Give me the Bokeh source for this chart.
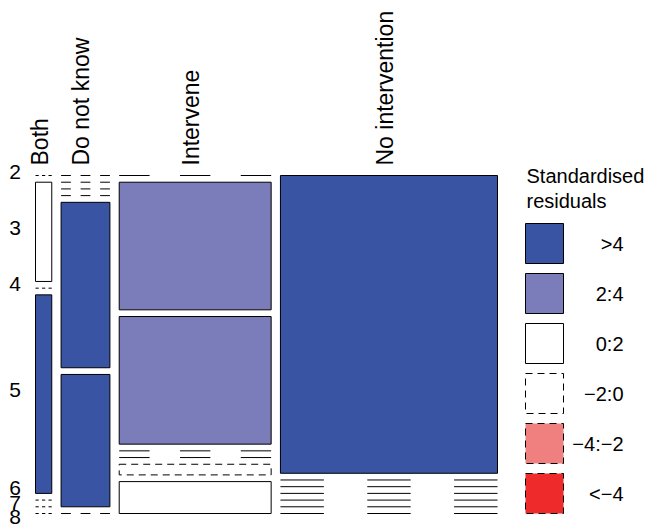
import numpy as np
from bokeh.plotting import figure
from bokeh.models import Range1d
from bokeh.embed import file_html
from bokeh.resources import INLINE
from bokeh.core.properties import value

# ---------------- data ----------------
columns = ["Both", "Do not know", "Intervene", "No intervention"]
rows = ["2", "3", "4", "5", "6", "7", "8"]
# counts per column, one entry per row level (2..8)
both = [0, 1, 0, 2, 0, 0, 0]
do_not_know = [0, 0, 0, 0, 5, 4, 0]
intervene = [0, 12, 12, 0, 0, 1, 3]
no_intervention = [40, 0, 0, 0, 0, 0, 0]

legend_title = ["Standardised", "residuals"]
legend_labels = [">4", "2:4", "0:2", "\u22122:0", "\u22124:\u22122", "<\u22124"]
shade_colors = ["#3A54A4", "#7B7CBA", "#FFFFFF", "#FFFFFF", "#F08080", "#EE2A2A"]
shade_dashed = [False, False, False, True, True, True]

# ---------------- layout / style ----------------
FONT = value("Liberation Sans")
W_FIG, H_FIG = 647, 529
X1, X2 = 35, 497          # mosaic left / right
YTOP, YBOT = 354, 16      # mosaic top / bottom (y up)
OFFX, OFFY = 0.0604, 0.119
DASH = "7 5"

counts = np.array([both, do_not_know, intervene, no_intervention], dtype=float)
ncol, nrow = counts.shape
N = counts.sum()
col_tot = counts.sum(axis=1)
row_tot = counts.sum(axis=0)
expected = np.outer(col_tot, row_tot) / N
resid = (counts - expected) / np.sqrt(expected)


def shade_class(r):
    if r > 4:
        return 0
    if r > 2:
        return 1
    if r > 0:
        return 2
    if r > -2:
        return 3
    if r > -4:
        return 4
    return 5


Wm = X2 - X1
Hm = YTOP - YBOT
gapx = OFFX * Wm / (ncol - 1)
gapy = OFFY * Hm / (nrow - 1)

tiles = {"solid": dict(l=[], r=[], t=[], b=[], c=[]),
         "dashed": dict(l=[], r=[], t=[], b=[], c=[])}
seg = dict(x0=[], x1=[], y0=[], y1=[])
xl_list, xr_list = [], []
row_pos_first = []

x = X1
for j in range(ncol):
    w = (1 - OFFX) * Wm * col_tot[j] / N
    xl, xr = x, x + w
    xl_list.append(xl)
    xr_list.append(xr)
    x = xr + gapx
    y = YTOP
    for i in range(nrow):
        h = (1 - OFFY) * Hm * counts[j, i] / col_tot[j]
        yt, yb = y, y - h
        if counts[j, i] == 0:
            for k in (0, 2, 4):
                seg["x0"].append(xl + (xr - xl) * k / 5)
                seg["x1"].append(xl + (xr - xl) * (k + 1) / 5)
                seg["y0"].append(yt)
                seg["y1"].append(yt)
        else:
            cls = shade_class(resid[j, i])
            key = "dashed" if shade_dashed[cls] else "solid"
            d = tiles[key]
            d["l"].append(xl); d["r"].append(xr)
            d["t"].append(yt); d["b"].append(yb)
            d["c"].append(shade_colors[cls])
        if j == 0:
            row_pos_first.append((yt + yb) / 2)
        y = yb - gapy

p = figure(width=W_FIG, height=H_FIG, output_backend="svg", toolbar_location=None,
           x_range=Range1d(0, W_FIG), y_range=Range1d(0, H_FIG),
           x_axis_type=None, y_axis_type=None, min_border=0)
p.outline_line_color = None
p.grid.visible = False
p.background_fill_color = "white"

for key, dash in (("solid", "solid"), ("dashed", DASH)):
    d = tiles[key]
    if d["l"]:
        p.quad(left=d["l"], right=d["r"], top=d["t"], bottom=d["b"],
               fill_color=d["c"], line_color="black", line_width=1, line_dash=dash)

p.segment(x0=seg["x0"], y0=seg["y0"], x1=seg["x1"], y1=seg["y1"],
          line_color="black", line_width=1)

# column labels (rotated)
cx = [(a + b) / 2 - 4 for a, b in zip(xl_list, xr_list)]
p.text(x=cx, y=[YTOP + 10] * ncol, text=columns, angle=np.pi / 2,
       text_font=FONT, text_font_size="23px", text_align="left",
       text_baseline="middle", text_color="black")

# row labels, positioned from the first column; overlapping ones spread
# symmetrically around their cluster centre
MIN_SEP = 14.5
base = [v + 4 for v in row_pos_first]
clusters = [[i] for i in range(nrow)]


def positions(cl):
    out = {}
    for c in cl:
        m = np.mean([base[i] for i in c])
        n = len(c)
        for k, i in enumerate(c):
            out[i] = m + MIN_SEP * ((n - 1) / 2 - k)
    return out


changed = True
while changed:
    changed = False
    pos = positions(clusters)
    for a in range(len(clusters) - 1):
        lo = pos[clusters[a][-1]]
        hi = pos[clusters[a + 1][0]]
        if lo - hi < MIN_SEP:
            clusters[a] = clusters[a] + clusters[a + 1]
            del clusters[a + 1]
            changed = True
            break
pos = positions(clusters)
ry = [pos[i] for i in range(nrow)]
p.text(x=[20.5] * nrow, y=ry, text=rows, text_font=FONT, text_font_size="21px",
       text_align="right", text_baseline="middle", text_color="black")

# legend
p.text(x=[526, 526], y=[YTOP, YTOP - 25], text=legend_title,
       text_font=FONT, text_font_size="20px", text_align="left",
       text_baseline="middle", text_color="black")
nleg = len(legend_labels)
ltop = [YTOP - 48 - 50 * k for k in range(nleg)]
for dash_flag, dash in ((False, "solid"), (True, DASH)):
    idx = [k for k in range(nleg) if shade_dashed[k] == dash_flag]
    p.quad(left=[525] * len(idx), right=[563] * len(idx),
           top=[ltop[k] for k in idx], bottom=[ltop[k] - 40 for k in idx],
           fill_color=[shade_colors[k] for k in idx], line_color="black",
           line_width=1, line_dash=dash)
p.text(x=[623] * nleg, y=[t - 20 for t in ltop], text=legend_labels,
       text_font=FONT, text_font_size="20px", text_align="right",
       text_baseline="middle", text_color="black")

open("out.html", "w").write(file_html(p, INLINE))
